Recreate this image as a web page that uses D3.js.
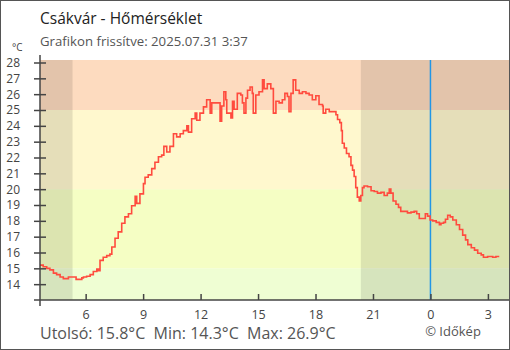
<!DOCTYPE html>
<html><head><meta charset="utf-8">
<script src="https://cdn.jsdelivr.net/npm/d3@7"></script>
<style>body{margin:0;background:#fff}svg{display:block}text{font-family:"Open Sans",sans-serif}</style>
</head><body><svg id="c" width="510" height="350"></svg>
<script>
const times = ["03:37","03:47","03:58","04:08","04:19","04:29","04:40","04:50","05:01","05:06","05:21","05:30","05:42","05:48","05:53","06:03","06:14","06:24","06:35","06:40","06:45","06:55","07:06","07:16","07:22","07:32","07:42","07:53","08:03","08:14","08:24","08:35","08:40","08:50","09:01","09:06","09:16","09:27","09:37","09:48","09:58","10:05","10:14","10:24","10:35","10:45","10:56","11:06","11:17","11:22","11:32","11:43","11:48","11:58","12:09","12:19","12:30","12:35","12:45","12:56","13:01","13:06","13:13","13:19","13:22","13:29","13:35","13:40","13:45","13:55","14:06","14:11","14:16","14:22","14:27","14:35","14:42","14:45","14:53","15:03","15:14","15:19","15:29","15:40","15:48","15:56","16:06","16:16","16:24","16:32","16:37","16:43","16:50","16:58","17:09","17:19","17:30","17:40","17:50","18:01","18:11","18:22","18:24","18:32","18:43","18:53","19:04","19:09","19:16","19:21","19:24","19:30","19:37","19:45","19:51","19:56","20:01","20:06","20:11","20:17","20:22","20:27","20:32","20:43","20:54","21:04","21:14","21:25","21:35","21:45","21:51","21:56","22:03","22:12","22:20","22:27","22:38","22:48","22:59","23:09","23:17","23:25","23:35","23:44","23:51","23:59","00:07","00:18","00:28","00:33","00:41","00:47","00:54","01:02","01:10","01:21","01:31","01:41","01:50","01:57","02:08","02:18","02:28","02:39","02:46","02:59","03:15","03:25","03:33"];
const temps = [15.2,15.1,15.0,14.9,14.7,14.6,14.45,14.35,14.35,14.45,14.45,14.3,14.3,14.4,14.45,14.5,14.6,14.8,14.95,14.85,15.5,15.7,15.8,15.9,16.35,16.9,17.3,17.85,18.25,18.45,18.95,19.55,19.1,19.7,20.35,20.75,20.9,21.3,21.7,22.05,22.15,22.7,22.35,22.7,23.5,23.3,23.5,23.7,24.0,23.6,24.45,24.8,24.35,24.8,25.2,25.65,24.8,25.45,25.45,25.45,24.3,25.25,26.15,25.65,24.8,24.8,24.5,25.55,25.05,26.05,25.95,25.45,24.8,25.75,26.25,26.45,26.05,24.8,25.95,26.15,26.9,26.35,26.65,26.35,24.8,25.55,25.45,25.65,26.05,25.85,24.9,26.05,26.9,26.25,26.05,26.15,26.05,25.95,25.65,25.9,25.35,25.25,24.8,25.05,24.9,24.9,24.7,24.4,24.2,23.7,22.9,22.6,22.25,22.05,21.5,21.2,20.8,20.1,19.5,19.25,19.6,20.1,20.2,20.15,19.9,19.85,19.75,19.8,19.6,19.75,20.0,19.75,19.25,19.05,18.85,18.6,18.6,18.5,18.55,18.6,18.45,18.15,18.15,18.45,18.3,18.05,18.0,17.9,17.75,17.85,17.9,18.1,18.35,18.25,18.05,17.75,17.45,17.1,16.8,16.5,16.3,16.15,15.95,15.85,15.7,15.75,15.7,15.75,15.8];
const yTicks = [14,15,16,17,18,19,20,21,22,23,24,25,26,27,28];
const xTicks = [6,9,12,15,18,21,24,27];
const bands = [{lo:13,hi:15,c:"#effed3"},{lo:15,hi:20,c:"#f5fec4"},{lo:20,hi:25,c:"#fff8ce"},{lo:25,hi:28.16,c:"#fddbbf"}];
const updated = "03:37", sunrise = "05:19", sunset = "20:22";
const title = "Csákvár - Hőmérséklet";
const subtitle = "Grafikon frissítve: 2025.07.31 3:37";
const footer = "Utolsó: 15.8°C  Min: 14.3°C  Max: 26.9°C";

const hm = s => { const [h,m] = s.split(":").map(Number); return h + m/60; };
let prev = -1, off = 0;
const data = times.map((t,i) => { let h = hm(t); if (h + off < prev) off += 24; prev = h + off; return {h: h + off, v: temps[i]}; });
const start = hm(updated);
const svg = d3.select("#c");
const L = 40, R = 509.3, T = 60, B = 300;
const x = d3.scaleLinear().domain([start, start + 24.5]).range([L, R]);
const y = d3.scaleLinear().domain([13, 28]).range([B, 62.5]);

svg.selectAll("rect.band").data(bands).join("rect").attr("class","band")
  .attr("x", L).attr("width", R - L)
  .attr("y", d => Math.max(T, y(d.hi))).attr("height", d => y(d.lo) - Math.max(T, y(d.hi)))
  .attr("fill", d => d.c);
const nights = [[start, hm(sunrise)], [hm(sunset), start + 24.5]];
svg.selectAll("rect.night").data(nights).join("rect").attr("class","night")
  .attr("x", d => x(d[0])).attr("width", d => x(d[1]) - x(d[0]))
  .attr("y", T).attr("height", B - T).attr("fill", "rgba(0,0,0,0.1)");
svg.append("line").attr("x1", x(24)).attr("x2", x(24)).attr("y1", T).attr("y2", B)
  .attr("stroke", "#2196e6").attr("stroke-width", 1.5);

const line = d3.line().x(d => x(d.h)).y(d => y(d.v)).curve(d3.curveStepAfter);
svg.append("path").datum(data).attr("d", line).attr("fill", "none")
  .attr("stroke", "#ff4b3e").attr("stroke-width", 1.6);

const ya = svg.append("g").attr("transform", `translate(${L},0)`)
  .call(d3.axisLeft(y).tickValues(yTicks).tickSizeInner(6).tickSizeOuter(0).tickPadding(14));
ya.select(".domain").remove();
ya.selectAll(".tick line").attr("x1", -6).attr("x2", 6).attr("stroke", "#444").attr("stroke-width", 1.5);
ya.selectAll(".tick text").attr("fill", "#444").style("font-size", "12px").style("font-family", "Open Sans");
svg.append("line").attr("x1", L).attr("x2", L).attr("y1", 55).attr("y2", 306).attr("stroke", "#444").attr("stroke-width", 1.5);

const xa = svg.append("g").attr("transform", `translate(0,${B})`)
  .call(d3.axisTop(x).tickValues(xTicks).tickSizeInner(6).tickSizeOuter(0).tickFormat(d => d % 24));
xa.select(".domain").remove();
xa.selectAll(".tick line").attr("stroke", "#444").attr("stroke-width", 1.5);
xa.selectAll(".tick text").attr("y", 19).attr("dy", 0).attr("fill", "#444").style("font-size", "12.5px").style("font-family", "Open Sans");
svg.append("line").attr("x1", 34).attr("x2", R).attr("y1", B).attr("y2", B).attr("stroke", "#444").attr("stroke-width", 1.5);

svg.append("text").attr("x", 12).attr("y", 51).attr("fill", "#444").style("font-size", "10px").text("°C");
svg.append("text").attr("x", 40).attr("y", 24).attr("fill", "#222").style("font-size", "15.5px").text(title);
svg.append("text").attr("x", 40).attr("y", 46).attr("fill", "#555").style("font-size", "13.2px").text(subtitle);
svg.append("text").attr("x", 40).attr("y", 339).attr("fill", "#555").style("font-size", "16px").attr("xml:space","preserve").style("white-space","pre").text(footer);
svg.append("text").attr("x", 453).attr("y", 336).attr("text-anchor", "middle").attr("fill", "#555").style("font-size", "13px").text("© Időkép");
svg.append("rect").attr("x", 0.5).attr("y", 0.5).attr("width", 509).attr("height", 349).attr("fill", "none").attr("stroke", "#555");
</script></body></html>
